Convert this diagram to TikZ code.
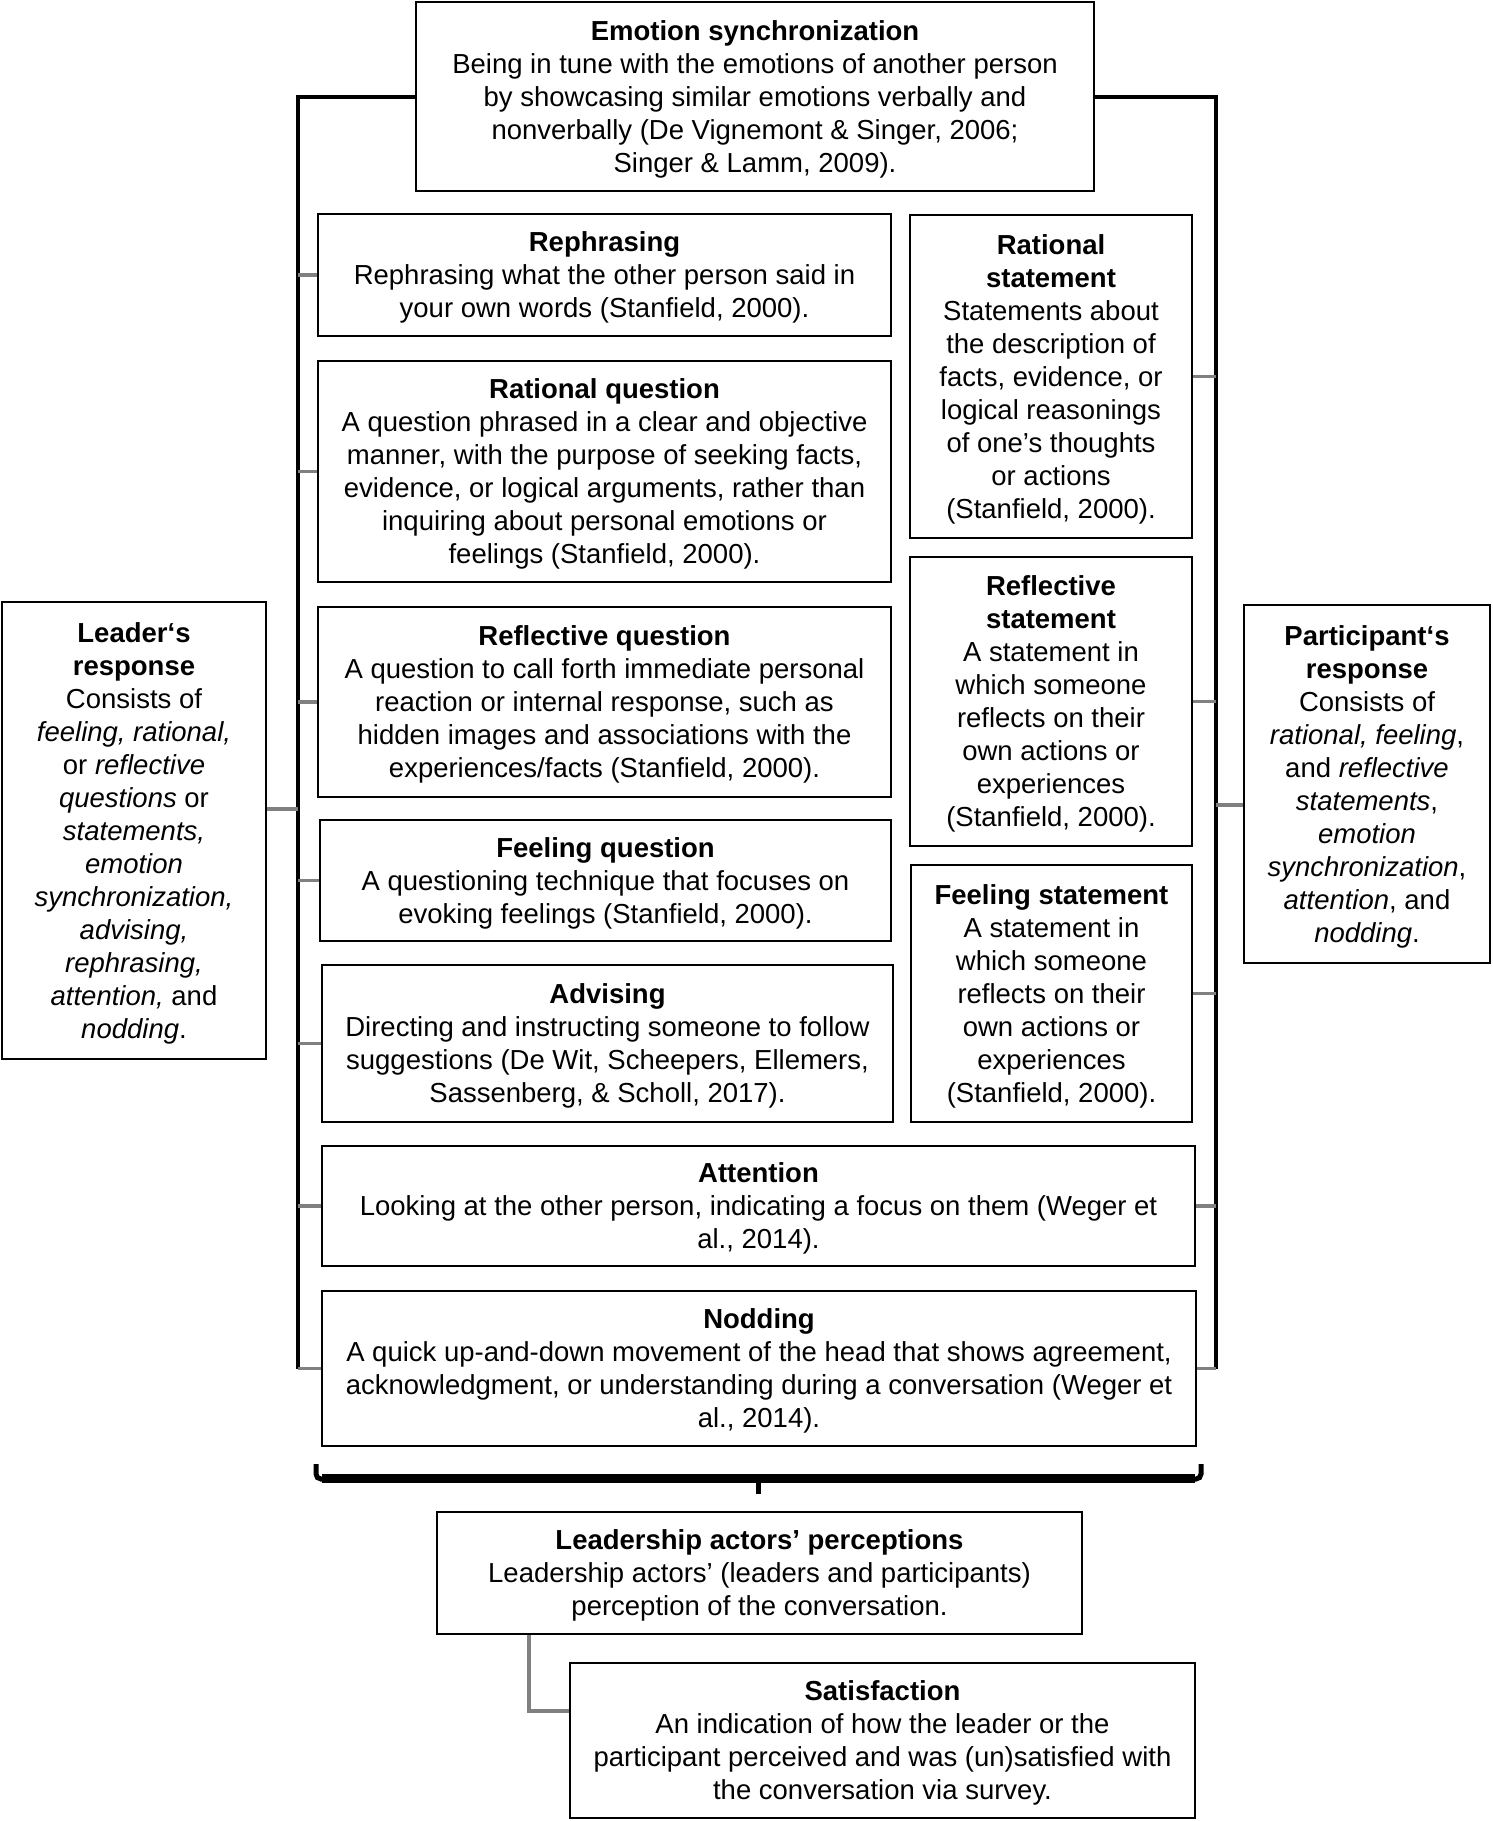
\documentclass[tikz,border=0pt]{standalone}
\usepackage{fontspec}
\setmainfont{Liberation Sans}
\begin{document}
\begin{tikzpicture}[x=1pt,y=-1pt,
  box/.style={draw, line width=2.6pt, align=center, inner sep=1pt, text depth=-1.5pt,
    font=\fontsize{27.5}{33}\selectfont},
  conn/.style={draw=black!50, line width=3.6pt},
  brk/.style={draw=black, line width=4pt},
]
\useasboundingbox (0,0) rectangle (1492,1821);

% top box
\node[box, minimum width=678, minimum height=189] (emo) at (755,96.5)
 {\textbf{Emotion synchronization}\\Being in tune with the emotions of another person\\by showcasing similar emotions verbally and\\nonverbally (De Vignemont \& Singer, 2006;\\Singer \& Lamm, 2009).};

% left column
\node[box, minimum width=573, minimum height=122] (reph) at (604.5,275)
 {\textbf{Rephrasing}\\Rephrasing what the other person said in\\your own words (Stanfield, 2000).};
\node[box, minimum width=573, minimum height=221] (ratq) at (604.5,471.5)
 {\textbf{Rational question}\\A question phrased in a clear and objective\\manner, with the purpose of seeking facts,\\evidence, or logical arguments, rather than\\inquiring about personal emotions or\\feelings (Stanfield, 2000).};
\node[box, minimum width=573, minimum height=190] (refq) at (604.5,702)
 {\textbf{Reflective question}\\A question to call forth immediate personal\\reaction or internal response, such as\\hidden images and associations with the\\experiences/facts (Stanfield, 2000).};
\node[box, minimum width=571, minimum height=121] (feelq) at (605.5,880.5)
 {\textbf{Feeling question}\\A questioning technique that focuses on\\evoking feelings (Stanfield, 2000).};
\node[box, minimum width=571, minimum height=157] (adv) at (607.5,1043.5)
 {\textbf{Advising}\\Directing and instructing someone to follow\\suggestions (De Wit, Scheepers, Ellemers,\\Sassenberg, \& Scholl, 2017).};

% right column
\node[box, minimum width=282, minimum height=323] (ratst) at (1051,376.5)
 {\textbf{Rational}\\\textbf{statement}\\Statements about\\the description of\\facts, evidence, or\\logical reasonings\\of one’s thoughts\\or actions\\(Stanfield, 2000).};
\node[box, minimum width=282, minimum height=289] (refst) at (1051,701.5)
 {\textbf{Reflective}\\\textbf{statement}\\A statement in\\which someone\\reflects on their\\own actions or\\experiences\\(Stanfield, 2000).};
\node[box, minimum width=281, minimum height=257] (feelst) at (1051.5,993.5)
 {\textbf{Feeling statement}\\A statement in\\which someone\\reflects on their\\own actions or\\experiences\\(Stanfield, 2000).};

% wide boxes
\node[box, minimum width=873, minimum height=120] (att) at (758.5,1206)
 {\textbf{Attention}\\Looking at the other person, indicating a focus on them (Weger et\\al., 2014).};
\node[box, minimum width=874, minimum height=155] (nod) at (759,1368.5)
 {\textbf{Nodding}\\A quick up-and-down movement of the head that shows agreement,\\acknowledgment, or understanding during a conversation (Weger et\\al., 2014).};

% side boxes
\node[box, minimum width=264, minimum height=457] (leader) at (134,830.5)
 {\textbf{Leader‘s}\\\textbf{response}\\Consists of\\\textit{feeling, rational,}\\or \textit{reflective}\\\textit{questions} or\\\textit{statements,}\\\textit{emotion}\\\textit{synchronization,}\\\textit{advising,}\\\textit{rephrasing,}\\\textit{attention,} and\\\textit{nodding}.};
\node[box, minimum width=246, minimum height=358] (part) at (1367,784)
 {\textbf{Participant‘s}\\\textbf{response}\\Consists of\\\textit{rational, feeling}, \\and \textit{reflective}\\\textit{statements},\\\textit{emotion}\\\textit{synchronization},\\\textit{attention}, and\\\textit{nodding}.};

% bottom boxes
\node[box, minimum width=645, minimum height=122] (lead) at (759.5,1573)
 {\textbf{Leadership actors’ perceptions}\\Leadership actors’ (leaders and participants)\\perception of the conversation.};
\node[box, minimum width=625, minimum height=155] (sat) at (882.5,1740.5)
 {\textbf{Satisfaction}\\An indication of how the leader or the\\participant perceived and was (un)satisfied with\\the conversation via survey.};

% bracket positions
\coordinate (LB) at (298,0);
\coordinate (RB) at (1216,0);
\coordinate (LY) at (0,809);
\coordinate (PY) at (0,805);

% brackets
\draw[brk] (emo.west) -| (nod.west -| LB);
\draw[brk] (emo.east) -| (nod.east -| RB);

% left connectors
\foreach \n in {reph,ratq,refq,feelq,adv,att,nod}
  \draw[conn] (\n.west) -- (\n.west -| LB);
% right connectors
\foreach \n in {ratst,refst,feelst,att,nod}
  \draw[conn] (\n.east) -- (\n.east -| RB);

\draw[conn] (leader.east |- LY) -- (LB |- LY);
\draw[conn] (RB |- PY) -- (part.west |- PY);

% bottom brace
\coordinate (BL) at (316,1464);
\coordinate (BR) at (1201,1464);
\coordinate (BS) at (758,1494);
\draw[line width=5pt, rounded corners=5pt] (BL) -- (316,1479) -- (1201,1479) -- (BR);
\draw[line width=9pt] (322,1478) -- (1195,1478);
\draw[line width=5pt] (BS |- 0,1478) -- (BS);

% leadership to satisfaction
\coordinate (c1) at (529,1711);
\draw[conn] (lead.south -| c1) -- (c1) -- (c1 -| sat.west);
\end{tikzpicture}
\end{document}
